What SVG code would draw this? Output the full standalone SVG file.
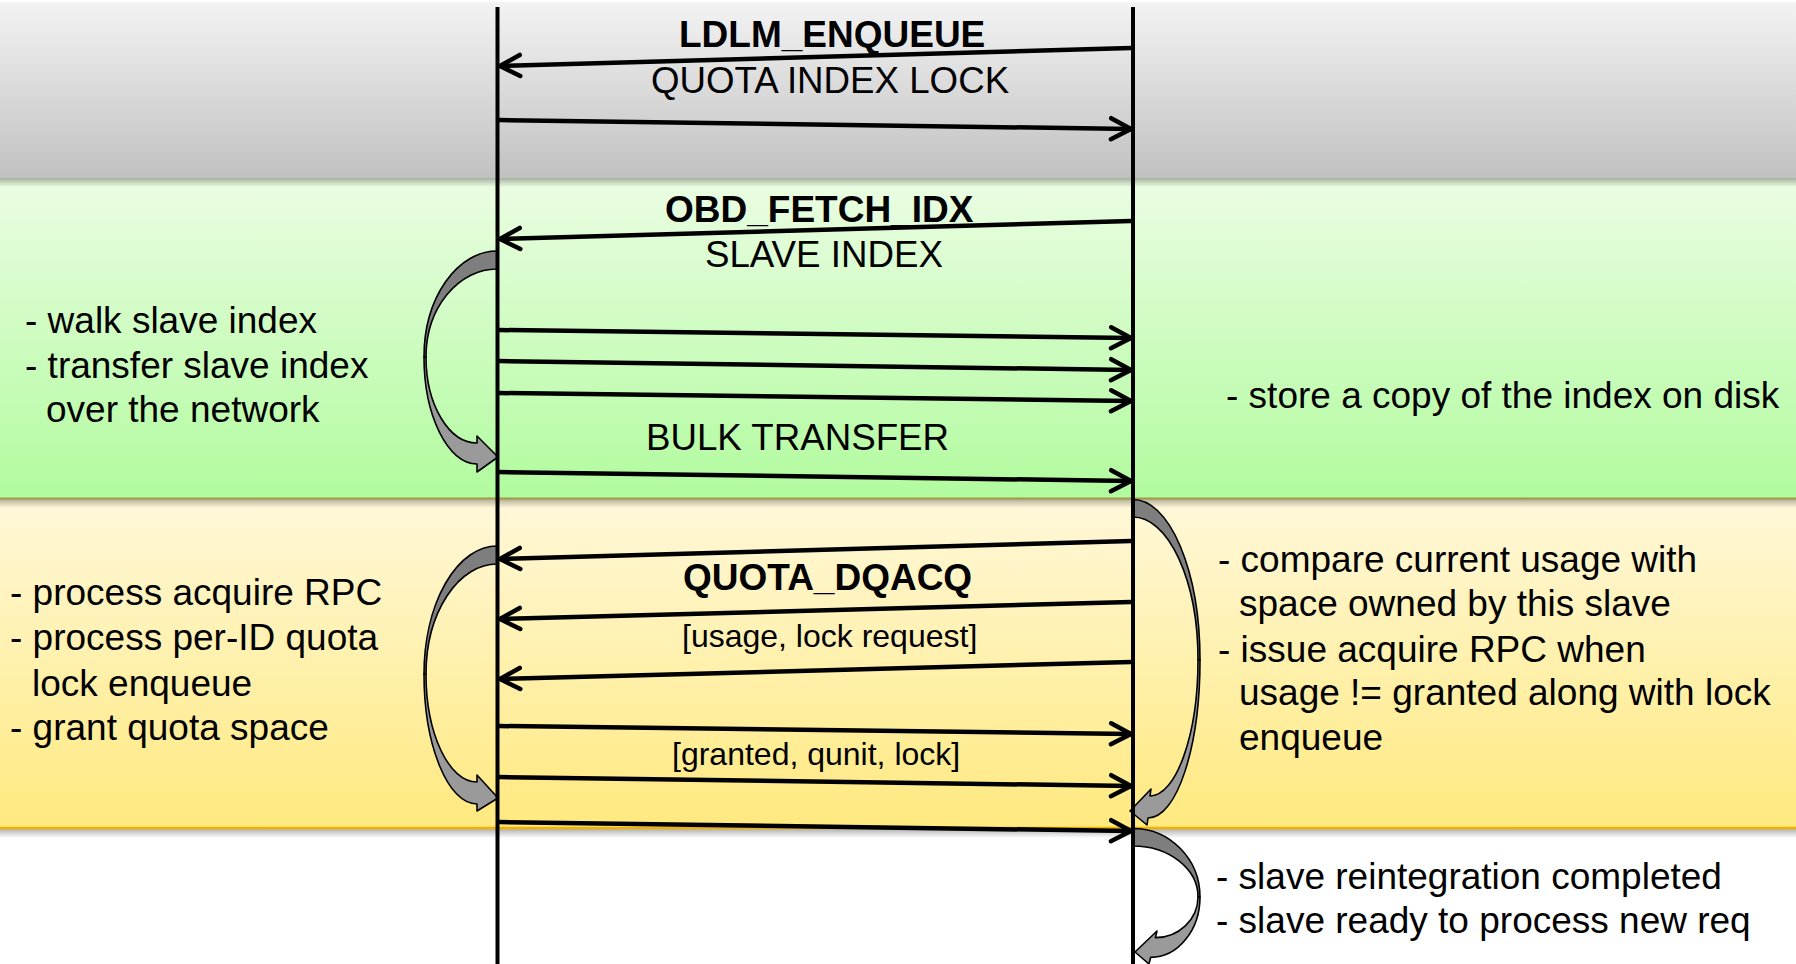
<svg xmlns="http://www.w3.org/2000/svg" width="1796" height="964" viewBox="0 0 1796 964">
  <defs>
    <linearGradient id="gGray" x1="0" y1="0" x2="0" y2="1">
      <stop offset="0" stop-color="#f3f3f3"/>
      <stop offset="1" stop-color="#c1c1c1"/>
    </linearGradient>
    <linearGradient id="gGreen" x1="0" y1="0" x2="0" y2="1">
      <stop offset="0" stop-color="#ebfde3"/>
      <stop offset="1" stop-color="#b1fb9e"/>
    </linearGradient>
    <linearGradient id="gYellow" x1="0" y1="0" x2="0" y2="1">
      <stop offset="0" stop-color="#fff8da"/>
      <stop offset="1" stop-color="#ffe97f"/>
    </linearGradient>
    <linearGradient id="gShadow" x1="0" y1="0" x2="0" y2="1">
      <stop offset="0" stop-color="#000" stop-opacity="0.3"/>
      <stop offset="1" stop-color="#000" stop-opacity="0"/>
    </linearGradient>
    <marker id="open" markerUnits="userSpaceOnUse" markerWidth="30" markerHeight="30" refX="0" refY="0" orient="auto" overflow="visible">
      <path d="M-20,-10.5 L0,0 L-20,10.5" fill="none" stroke="#000" stroke-width="4.5" stroke-linecap="round" stroke-linejoin="round"/>
    </marker>
    <style>
      .msg { stroke: #000; stroke-width: 4.5; fill: none; marker-end: url(#open); }
      .life { stroke: #000; stroke-width: 4; }
      .loop-dark { fill: #7e7e7e; stroke: #000; stroke-width: 1.6; stroke-linejoin: round; }
      .loop-light { fill: #9a9a9a; stroke: #000; stroke-width: 1.6; stroke-linejoin: round; }
      text { font-family: "Liberation Sans", Arial, sans-serif; fill: #000; }
      .lbl { font-size: 36.7px; }
      .bold { font-size: 37px; font-weight: bold; }
      .small { font-size: 32px; }
      .note { font-size: 37px; }
    </style>
  </defs>

  <!-- phase bands -->
  <g id="bands">
    <rect x="0" y="2" width="1796" height="176" fill="url(#gGray)"/>
    <rect x="0" y="178" width="1796" height="321" fill="url(#gGreen)"/>
    <rect x="0" y="499" width="1796" height="329" fill="url(#gYellow)"/>
    <rect x="0" y="178" width="1796" height="9" fill="url(#gShadow)"/>
    <rect x="0" y="499" width="1796" height="9" fill="url(#gShadow)"/>
    <rect x="0" y="829" width="1796" height="9" fill="url(#gShadow)"/>
    <line x1="0" y1="498.5" x2="1796" y2="498.5" stroke="#a29a45" stroke-width="2"/>
    <line x1="0" y1="828" x2="1796" y2="828" stroke="#f2b300" stroke-width="2.5"/>
  </g>

  <!-- self-loop arrows on the lifelines -->
  <g id="loop-walk-index">
    <path class="loop-dark" d="M497,251 A73,106 0 0 0 424,357 L426,357 A71,88 0 0 1 497,269 Z"/>
    <path class="loop-light" d="M424,357 C424,416 448,464 477,464 L477,472 L498,457 L477,436 L477,443 C449,443 426,405 426,357 Z"/>
  </g>
  <g id="loop-process-acquire">
    <path class="loop-dark" d="M497,546 A73,128 0 0 0 424,674 L426,674 A71,110 0 0 1 497,564 Z"/>
    <path class="loop-light" d="M424,674 C424,746 448,804 477,804 L477,811 L498,798 L477,775 L477,782 C449,782 426,734 426,674 Z"/>
  </g>
  <g id="loop-compare-usage">
    <path class="loop-dark" d="M1133,499.5 A67,160.5 0 0 1 1200,660 L1198,660 A65,143 0 0 0 1133,517 Z"/>
    <path class="loop-light" d="M1200,660 C1200,747 1177,818 1148,818 L1147,825 L1130,811 L1151,789 L1150,796 C1176,796 1198,735 1198,660 Z"/>
  </g>
  <g id="loop-reintegration">
    <path class="loop-dark" d="M1133,828.5 A67,68.5 0 0 1 1200,897 L1198,897 A65,51 0 0 0 1133,846 Z"/>
    <path class="loop-light" d="M1200,897 C1200,930 1178,957.4 1150.6,957.4 L1149,964 L1135,952 L1157,931 L1155.4,937.6 C1179,937.6 1198,919 1198,897 Z"/>
  </g>

  <!-- lifelines -->
  <g id="lifeline-master">
    <line class="life" x1="497.5" y1="7" x2="497.5" y2="964"/>
  </g>
  <g id="lifeline-slave">
    <line class="life" x1="1133" y1="7" x2="1133" y2="964"/>
  </g>

  <!-- messages -->
  <g id="connectors">
    <line class="msg" x1="1131" y1="48" x2="500" y2="66"/>
    <line class="msg" x1="499" y1="120" x2="1131" y2="129"/>
    <line class="msg" x1="1131" y1="221" x2="500" y2="239"/>
    <line class="msg" x1="499" y1="330" x2="1131" y2="338"/>
    <line class="msg" x1="499" y1="361" x2="1131" y2="370"/>
    <line class="msg" x1="499" y1="393" x2="1131" y2="401"/>
    <line class="msg" x1="499" y1="472" x2="1131" y2="481"/>
    <line class="msg" x1="1131" y1="541" x2="500" y2="559"/>
    <line class="msg" x1="1131" y1="602" x2="500" y2="619"/>
    <line class="msg" x1="1131" y1="662" x2="500" y2="679"/>
    <line class="msg" x1="499" y1="726" x2="1131" y2="734"/>
    <line class="msg" x1="499" y1="777" x2="1131" y2="786"/>
    <line class="msg" x1="499" y1="822" x2="1131" y2="831"/>
  </g>

  <!-- message labels -->
  <g id="label-ldlm-enqueue">
    <text class="bold" x="679" y="47">LDLM_ENQUEUE</text>
    <text class="lbl" x="651" y="93">QUOTA INDEX LOCK</text>
  </g>
  <g id="label-obd-fetch-idx">
    <text class="bold" x="665" y="222">OBD_FETCH_IDX</text>
    <text class="lbl" x="705" y="267">SLAVE INDEX</text>
  </g>
  <g id="label-bulk-transfer">
    <text class="lbl" x="646" y="450">BULK TRANSFER</text>
  </g>
  <g id="label-quota-dqacq">
    <text class="bold" x="683" y="590" font-size="36">QUOTA_DQACQ</text>
    <text class="small" x="682" y="647">[usage, lock request]</text>
    <text class="small" x="672" y="765">[granted, qunit, lock]</text>
  </g>

  <!-- side notes -->
  <g id="note-walk-index">
    <text class="note" x="25" y="333">- walk slave index</text>
    <text class="note" x="25" y="378">- transfer slave index</text>
    <text class="note" x="46" y="422">over the network</text>
  </g>
  <g id="note-store-index">
    <text class="note" x="1226" y="408">- store a copy of the index on disk</text>
  </g>
  <g id="note-process-acquire">
    <text class="note" x="10" y="605">- process acquire RPC</text>
    <text class="note" x="10" y="650">- process per-ID quota</text>
    <text class="note" x="32" y="696">lock enqueue</text>
    <text class="note" x="10" y="740">- grant quota space</text>
  </g>
  <g id="note-compare-usage">
    <text class="note" x="1218" y="572">- compare current usage with</text>
    <text class="note" x="1239" y="616">space owned by this slave</text>
    <text class="note" x="1218" y="662">- issue acquire RPC when</text>
    <text class="note" x="1239" y="705">usage != granted along with lock</text>
    <text class="note" x="1239" y="750">enqueue</text>
  </g>
  <g id="note-reintegration">
    <text class="note" x="1216" y="889">- slave reintegration completed</text>
    <text class="note" x="1216" y="933">- slave ready to process new req</text>
  </g>
</svg>
